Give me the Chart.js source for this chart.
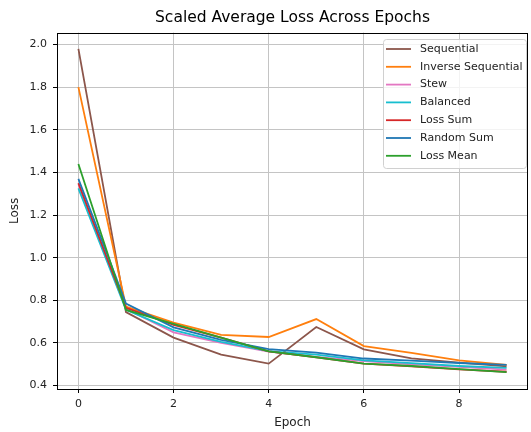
<!DOCTYPE html>
<html>
<head>
<meta charset="utf-8">
<script src="https://cdn.jsdelivr.net/npm/chart.js@4"></script>
<style>
  html, body { margin: 0; padding: 0; background: #fff; }
  #wrap { width: 531px; height: 432px; }
</style>
</head>
<body>
<div id="wrap"><canvas id="lossChart" width="531" height="432"></canvas></div>
<script>
const epochs = [0, 1, 2, 3, 4, 5, 6, 7, 8, 9];
const xTicks = [0, 2, 4, 6, 8];
const yTicks = [0.4, 0.6, 0.8, 1.0, 1.2, 1.4, 1.6, 1.8, 2.0];

const sequential = [1.98, 0.745, 0.625, 0.545, 0.503, 0.675, 0.57, 0.528, 0.508, 0.49];
const inverseSequential = [1.80, 0.77, 0.695, 0.638, 0.628, 0.712, 0.585, 0.553, 0.518, 0.497];
const stew = [1.345, 0.76, 0.65, 0.6, 0.56, 0.535, 0.515, 0.5, 0.488, 0.475];
const balanced = [1.325, 0.755, 0.66, 0.605, 0.562, 0.545, 0.518, 0.505, 0.492, 0.483];
const lossSum = [1.35, 0.765, 0.685, 0.625, 0.56, 0.532, 0.503, 0.49, 0.476, 0.465];
const randomSum = [1.37, 0.785, 0.673, 0.615, 0.571, 0.555, 0.527, 0.517, 0.506, 0.497];
const lossMean = [1.44, 0.755, 0.69, 0.625, 0.56, 0.533, 0.503, 0.492, 0.477, 0.463];

const seriesNames = ['Sequential', 'Inverse Sequential', 'Stew', 'Balanced', 'Loss Sum', 'Random Sum', 'Loss Mean'];
const seriesValues = [sequential, inverseSequential, stew, balanced, lossSum, randomSum, lossMean];
const seriesColors = ['#8c564b', '#ff7f0e', '#e377c2', '#17becf', '#d62728', '#1f77b4', '#2ca02c'];

const FONT = 'DejaVu Sans';

// axes frame + legend box drawn inside the plot, matplotlib style
const framePlugin = {
  id: 'frameAndLegend',
  afterDraw(chart) {
    const { ctx, chartArea: a } = chart;
    ctx.save();
    ctx.strokeStyle = '#000';
    ctx.lineWidth = 1;
    ctx.strokeRect(Math.round(a.left) + 0.5, Math.round(a.top) + 0.5,
      Math.round(a.right - a.left) - 1, Math.round(a.bottom - a.top));

    // legend
    const bx = 383.5, by = 39.5, bw = 143, bh = 129;
    ctx.beginPath();
    ctx.roundRect(bx, by, bw, bh, 3);
    ctx.fillStyle = 'rgba(255,255,255,0.8)';
    ctx.fill();
    ctx.strokeStyle = '#d0d0d0';
    ctx.stroke();

    ctx.font = '11px "' + FONT + '"';
    ctx.textBaseline = 'middle';
    seriesNames.forEach((name, i) => {
      const y = 49 + i * 17.8;
      ctx.strokeStyle = seriesColors[i];
      ctx.lineWidth = 1.8;
      ctx.beginPath();
      ctx.moveTo(386, y);
      ctx.lineTo(411, y);
      ctx.stroke();
      ctx.fillStyle = '#222';
      ctx.fillText(name, 420, y);
    });
    ctx.restore();
  }
};

const datasets = seriesNames.map((name, i) => ({
  label: name,
  data: epochs.map((e, j) => ({ x: e, y: seriesValues[i][j] })),
  borderColor: seriesColors[i],
  backgroundColor: seriesColors[i],
  borderWidth: 1.8,
  pointRadius: 0,
  tension: 0,
  fill: false,
  order: -i
}));

new Chart(document.getElementById('lossChart'), {
  type: 'line',
  data: { datasets: datasets },
  plugins: [framePlugin],
  options: {
    responsive: false,
    animation: false,
    events: [],
    layout: { padding: { top: 0, right: 3, bottom: 0, left: 0 } },
    plugins: {
      legend: { display: false },
      tooltip: { enabled: false },
      title: {
        display: true,
        fullSize: false,
        text: 'Scaled Average Loss Across Epochs',
        color: '#000',
        font: { family: FONT, size: 15.5, weight: 'normal' },
        padding: { top: 9, bottom: 5 }
      }
    },
    scales: {
      x: {
        type: 'linear',
        min: -0.45,
        max: 9.45,
        afterBuildTicks: (scale) => { scale.ticks = xTicks.map(v => ({ value: v })); },
        afterFit: (scale) => { scale.height = 43; },
        grid: { color: '#c4c4c4', lineWidth: 1, tickColor: '#000', tickLength: 4, drawTicks: true },
        border: { display: false },
        ticks: {
          color: '#222',
          font: { family: FONT, size: 11 },
          padding: 5,
          maxRotation: 0,
          callback: (v) => String(v)
        },
        title: {
          display: true,
          text: 'Epoch',
          color: '#222',
          font: { family: FONT, size: 12 },
          padding: { top: 2, bottom: 2 }
        }
      },
      y: {
        type: 'linear',
        min: 0.384,
        max: 2.056,
        afterBuildTicks: (scale) => { scale.ticks = yTicks.map(v => ({ value: v })); },
        afterFit: (scale) => { scale.width = 57; },
        grid: { color: '#c4c4c4', lineWidth: 1, tickColor: '#000', tickLength: 4, drawTicks: true },
        border: { display: false },
        ticks: {
          color: '#222',
          font: { family: FONT, size: 11 },
          padding: 6,
          callback: (v) => v.toFixed(1)
        },
        title: {
          display: true,
          text: 'Loss',
          color: '#222',
          font: { family: FONT, size: 12 },
          padding: { top: 8, bottom: 0 }
        }
      }
    }
  }
});
</script>
</body>
</html>
